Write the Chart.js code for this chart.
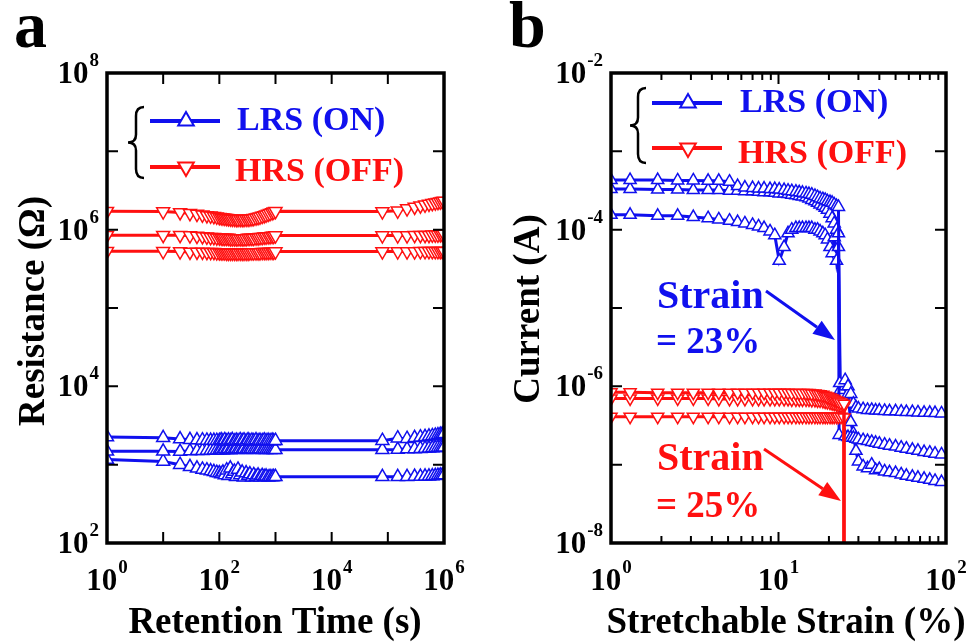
<!DOCTYPE html>
<html>
<head>
<meta charset="utf-8">
<script src="https://cdn.jsdelivr.net/npm/chart.js@4.4.1/dist/chart.umd.min.js"></script>
<style>
  html, body { margin: 0; padding: 0; background: #fff; }
  #wrap { position: relative; width: 973px; height: 644px; }
  canvas { position: absolute; left: 0; top: 0; }
</style>
</head>
<body>
<div id="wrap">
  <canvas id="chartA" width="973" height="644"></canvas>
  <canvas id="chartB" width="973" height="644"></canvas>
</div>
<script>
// ----- panel a : retention -----
const retentionTime = [1, 10, 20, 30, 40, 50, 60, 70, 80, 90,
  100, 108, 116, 125, 135, 145, 157, 170, 185, 200, 215, 235, 255, 275, 300,
  325, 350, 380, 410, 450, 490, 530, 580, 630, 680, 740, 800, 870, 930, 1000,
  80000, 150000, 220000, 300000, 380000, 460000, 540000, 620000, 700000, 780000, 860000, 930000, 1000000];

const hrsA1 = [1.72e6, 1.70e6, 1.66e6, 1.62e6, 1.58e6, 1.55e6, 1.52e6, 1.50e6, 1.48e6, 1.46e6,
  1.44e6, 1.43e6, 1.42e6, 1.41e6, 1.40e6, 1.39e6, 1.38e6, 1.37e6, 1.37e6, 1.36e6, 1.36e6, 1.36e6, 1.36e6, 1.36e6, 1.37e6,
  1.37e6, 1.38e6, 1.39e6, 1.40e6, 1.42e6, 1.44e6, 1.46e6, 1.49e6, 1.52e6, 1.55e6, 1.58e6, 1.62e6, 1.66e6, 1.69e6, 1.72e6,
  1.70e6, 1.74e6, 1.86e6, 1.95e6, 2.02e6, 2.08e6, 2.13e6, 2.17e6, 2.21e6, 2.24e6, 2.27e6, 2.30e6, 2.33e6];
const hrsA2 = [8.5e5, 8.5e5, 8.5e5, 8.4e5, 8.3e5, 8.2e5, 8.1e5, 8.0e5, 8.0e5, 7.9e5,
  7.9e5, 7.9e5, 7.8e5, 7.8e5, 7.8e5, 7.8e5, 7.7e5, 7.7e5, 7.7e5, 7.7e5, 7.7e5, 7.7e5, 7.7e5, 7.7e5, 7.7e5,
  7.8e5, 7.8e5, 7.8e5, 7.8e5, 7.9e5, 7.9e5, 8.0e5, 8.0e5, 8.1e5, 8.1e5, 8.2e5, 8.2e5, 8.3e5, 8.3e5, 8.4e5,
  8.4e5, 8.4e5, 8.4e5, 8.5e5, 8.5e5, 8.5e5, 8.5e5, 8.6e5, 8.6e5, 8.6e5, 8.7e5, 8.7e5, 8.8e5];
const hrsA3 = [5.3e5, 5.3e5, 5.25e5, 5.2e5, 5.2e5, 5.2e5, 5.15e5, 5.15e5, 5.15e5, 5.1e5,
  5.1e5, 5.1e5, 5.1e5, 5.1e5, 5.05e5, 5.05e5, 5.05e5, 5.05e5, 5.05e5, 5.05e5, 5.05e5, 5.05e5, 5.05e5, 5.05e5, 5.05e5,
  5.05e5, 5.1e5, 5.1e5, 5.1e5, 5.1e5, 5.1e5, 5.1e5, 5.15e5, 5.15e5, 5.15e5, 5.15e5, 5.2e5, 5.2e5, 5.2e5, 5.25e5,
  5.25e5, 5.25e5, 5.25e5, 5.25e5, 5.3e5, 5.3e5, 5.3e5, 5.3e5, 5.3e5, 5.3e5, 5.3e5, 5.3e5, 5.3e5];

const lrsA1 = [2250, 2200, 2120, 2080, 2060, 2050, 2040, 2030, 2030, 2020,
  2020, 2060, 2000, 2070, 1990, 2050, 2010, 2080, 1990, 2040, 2000, 2070, 2010, 2050, 1990,
  2060, 2000, 2040, 2010, 2060, 2000, 2030, 2010, 2050, 2000, 2030, 2010, 2040, 2000, 2020,
  2020, 2180, 2150, 2200, 2240, 2270, 2300, 2330, 2360, 2390, 2420, 2450, 2480];
const lrsA2 = [1480, 1480, 1470, 1490, 1500, 1510, 1520, 1520, 1530, 1530,
  1540, 1570, 1530, 1590, 1550, 1600, 1540, 1580, 1560, 1610, 1550, 1590, 1560, 1600, 1550,
  1580, 1560, 1590, 1550, 1570, 1560, 1580, 1550, 1570, 1550, 1560, 1550, 1560, 1550, 1550,
  1550, 1560, 1580, 1590, 1600, 1610, 1620, 1630, 1640, 1650, 1660, 1660, 1670];
const lrsA3 = [1160, 1100, 1000, 940, 900, 870, 850, 830, 810, 790,
  780, 760, 800, 740, 850, 720, 900, 760, 820, 700, 870, 740, 800, 690, 780,
  720, 760, 690, 740, 700, 730, 690, 720, 700, 710, 690, 700, 695, 700, 700,
  700, 700, 700, 705, 705, 710, 710, 715, 720, 725, 730, 735, 740];

// ----- panel b : stretching -----
const strainPre = [1, 1.3, 1.9, 2.5, 3.1, 3.8, 4.4, 5.1, 5.7, 6.3, 7, 7.6, 8.2, 8.9, 9.5, 10.1, 10.8, 11.4,
  12, 12.7, 13.3, 13.9, 14.6, 15.2, 15.8, 16.5, 17.1, 17.7, 18.4, 19, 19.6, 20.3, 20.9, 21.5, 22.2, 22.8];
const postStrain = [25, 26, 27, 28, 29, 30, 32, 34, 36, 38, 40, 43, 46, 50, 54, 58, 63, 68, 74, 80, 86, 94];

const lrsB1 = [4.3e-4, 4.3e-4, 4.3e-4, 4.25e-4, 4.25e-4, 4.2e-4, 4.2e-4, 4.1e-4, 3.6e-4, 3.45e-4, 3.4e-4, 3.35e-4,
  3.35e-4, 3.3e-4, 3.3e-4, 3.25e-4, 3.2e-4, 3.15e-4, 3.1e-4, 3.05e-4, 3.0e-4, 2.95e-4, 2.9e-4, 2.85e-4,
  2.8e-4, 2.7e-4, 2.6e-4, 2.5e-4, 2.45e-4, 2.4e-4, 2.3e-4, 2.25e-4, 2.2e-4, 2.1e-4, 2.0e-4, 1.95e-4];
const lrsB2 = [3.3e-4, 3.3e-4, 3.25e-4, 3.25e-4, 3.2e-4, 3.2e-4, 3.2e-4, 3.15e-4, 3.15e-4, 3.1e-4, 3.1e-4, 3.05e-4,
  3.0e-4, 3.0e-4, 2.95e-4, 2.9e-4, 2.9e-4, 2.85e-4, 2.8e-4, 2.75e-4, 2.7e-4, 2.65e-4, 2.6e-4, 2.5e-4,
  2.4e-4, 2.3e-4, 2.2e-4, 2.1e-4, 2.0e-4, 1.9e-4, 1.8e-4, 1.6e-4, 1.4e-4, 1.2e-4, 1.0e-4, 9e-5];
const lrsB3 = [1.55e-4, 1.55e-4, 1.5e-4, 1.5e-4, 1.45e-4, 1.4e-4, 1.35e-4, 1.3e-4, 1.25e-4, 1.2e-4, 1.15e-4, 1.1e-4,
  1.05e-4, 9.5e-5, 8.5e-5, 4e-5, 6e-5, 9e-5, 1.0e-4, 1.05e-4, 1.05e-4, 1.05e-4, 1.05e-4, 1.05e-4,
  1.05e-4, 1.0e-4, 1.0e-4, 9.5e-5, 9e-5, 8.5e-5, 7.5e-5, 6e-5, 5e-5, 8e-5, 4e-5, 6e-5];

// where each LRS curve breaks down
const lrsFailStrain = [23.2, 23.0, 23.4];
const lrsFailCurrent = [1.1e-6, 2.4e-7, 9e-7];

const lrsPostB1 = [1.2e-6, 1.0e-6, 8e-7, 6e-7, 5.4e-7, 5.2e-7, 5.1e-7, 5.0e-7, 5.0e-7, 4.9e-7, 4.9e-7,
  4.85e-7, 4.8e-7, 4.8e-7, 4.75e-7, 4.7e-7, 4.7e-7, 4.65e-7, 4.6e-7, 4.6e-7, 4.55e-7, 4.5e-7];
const lrsPostB2 = [2.3e-7, 2.25e-7, 2.2e-7, 2.2e-7, 2.15e-7, 2.1e-7, 2.05e-7, 2.0e-7, 1.95e-7, 1.9e-7, 1.85e-7,
  1.8e-7, 1.75e-7, 1.7e-7, 1.65e-7, 1.6e-7, 1.55e-7, 1.5e-7, 1.45e-7, 1.42e-7, 1.38e-7, 1.35e-7];
const lrsPostB3 = [1.0e-6, 8e-7, 3.5e-7, 2.5e-7, 1.5e-7, 1.1e-7, 9.5e-8, 9e-8, 1.0e-7, 8.5e-8, 8.8e-8,
  8.2e-8, 8.0e-8, 7.8e-8, 7.5e-8, 7.2e-8, 7.0e-8, 6.8e-8, 6.6e-8, 6.4e-8, 6.2e-8, 6.0e-8];

// HRS in panel b, last point is below the axis (open circuit)
const hrsEndStrain = [23.6, 24.6, 24.6];
const hrsB1 = [8.4e-7, 8.4e-7, 8.3e-7, 8.3e-7, 8.3e-7, 8.3e-7, 8.3e-7, 8.3e-7, 8.3e-7, 8.3e-7, 8.3e-7, 8.3e-7,
  8.3e-7, 8.3e-7, 8.3e-7, 8.3e-7, 8.3e-7, 8.3e-7, 8.2e-7, 8.2e-7, 8.2e-7, 8.2e-7, 8.2e-7, 8.2e-7,
  8.1e-7, 8.1e-7, 8.0e-7, 7.9e-7, 7.8e-7, 7.6e-7, 7.4e-7, 7.2e-7, 7.0e-7, 6.8e-7, 6.6e-7, 6.4e-7,
  6.2e-7, 6.0e-7, 1e-9];
const hrsB2 = [7.0e-7, 7.0e-7, 7.0e-7, 7.0e-7, 7.0e-7, 7.0e-7, 6.9e-7, 6.9e-7, 6.9e-7, 6.9e-7, 6.9e-7, 6.9e-7,
  6.9e-7, 6.9e-7, 6.9e-7, 6.9e-7, 6.9e-7, 6.9e-7, 6.8e-7, 6.8e-7, 6.8e-7, 6.8e-7, 6.8e-7, 6.8e-7,
  6.7e-7, 6.7e-7, 6.6e-7, 6.6e-7, 6.5e-7, 6.4e-7, 6.3e-7, 6.2e-7, 6.1e-7, 6.0e-7, 5.9e-7, 5.8e-7,
  5.7e-7, 5.6e-7, 1e-9];
const hrsB3 = [4.1e-7, 4.1e-7, 4.1e-7, 4.1e-7, 4.1e-7, 4.1e-7, 4.1e-7, 4.1e-7, 4.1e-7, 4.1e-7, 4.1e-7, 4.1e-7,
  4.1e-7, 4.1e-7, 4.1e-7, 4.1e-7, 4.1e-7, 4.1e-7, 4.1e-7, 4.1e-7, 4.1e-7, 4.1e-7, 4.1e-7, 4.1e-7,
  4.1e-7, 4.1e-7, 4.1e-7, 4.1e-7, 4.1e-7, 4.1e-7, 4.1e-7, 4.1e-7, 4.1e-7, 4.1e-7, 4.1e-7, 4.1e-7,
  4.1e-7, 4.0e-7, 1e-9];

// tick labels (powers of ten)
const timeTickExp = [0, 2, 4, 6];
const resistTickExp = [2, 4, 6, 8];
const strainTickExp = [0, 1, 2];
const currentTickExp = [-8, -6, -4, -2];

const BLUE = '#1010ee';
const RED = '#ff1010';
const SERIF = '"Liberation Serif", "Times New Roman", serif';

function pts(xs, ys) {
  return xs.map((x, i) => ({ x: x, y: ys[i] }));
}

function series(label, xs, ys, color, down, r) {
  return {
    label: label,
    data: pts(xs, ys),
    showLine: true,
    borderColor: color,
    borderWidth: 3,
    pointStyle: 'triangle',
    pointRotation: down ? 180 : 0,
    pointRadius: r,
    pointBorderWidth: 1.5,
    pointBackgroundColor: '#fff',
    pointBorderColor: color,
    tension: 0
  };
}

// ---------- drawing helpers ----------
function powLabel(ctx, exp, x, y, align) {
  ctx.font = 'bold 31px ' + SERIF;
  const wBase = ctx.measureText('10').width;
  ctx.font = 'bold 19px ' + SERIF;
  const e = String(exp);
  const wExp = ctx.measureText(e).width;
  const total = wBase + 1 + wExp;
  const x0 = align === 'right' ? x - total : x - total / 2;
  ctx.fillStyle = '#000';
  ctx.textAlign = 'left';
  ctx.textBaseline = 'alphabetic';
  ctx.font = 'bold 31px ' + SERIF;
  ctx.fillText('10', x0, y);
  ctx.font = 'bold 19px ' + SERIF;
  ctx.fillText(e, x0 + wBase + 1, y - 17);
}

function brace(ctx, x, top, bottom) {
  const mid = (top + bottom) / 2, w = 16, c = x + w / 2;
  ctx.strokeStyle = '#000';
  ctx.lineWidth = 2.5;
  ctx.beginPath();
  ctx.moveTo(x + w, top);
  ctx.quadraticCurveTo(c, top, c, top + 9);
  ctx.lineTo(c, mid - 8);
  ctx.quadraticCurveTo(c, mid, x, mid);
  ctx.quadraticCurveTo(c, mid, c, mid + 8);
  ctx.lineTo(c, bottom - 9);
  ctx.quadraticCurveTo(c, bottom, x + w, bottom);
  ctx.stroke();
}

function triangle(ctx, x, y, r, down, color) {
  const s = down ? -1 : 1;
  ctx.beginPath();
  ctx.moveTo(x, y - s * r);
  ctx.lineTo(x + r * 0.866, y + s * r * 0.5);
  ctx.lineTo(x - r * 0.866, y + s * r * 0.5);
  ctx.closePath();
  ctx.fillStyle = '#fff';
  ctx.fill();
  ctx.strokeStyle = color;
  ctx.lineWidth = 2;
  ctx.stroke();
}

function legendRow(ctx, x, y, text, textX, baseline, color, down) {
  ctx.strokeStyle = color;
  ctx.lineWidth = 4;
  ctx.beginPath();
  ctx.moveTo(x, y);
  ctx.lineTo(x + 70, y);
  ctx.stroke();
  triangle(ctx, x + 36, y, 9, down, color);
  ctx.fillStyle = color;
  ctx.font = 'bold 34px ' + SERIF;
  ctx.textAlign = 'left';
  ctx.textBaseline = 'alphabetic';
  ctx.fillText(text, textX, baseline);
}

function arrow(ctx, x0, y0, x1, y1, color) {
  const ang = Math.atan2(y1 - y0, x1 - x0), head = 22, half = 8;
  const bx = x1 - head * Math.cos(ang), by = y1 - head * Math.sin(ang);
  ctx.strokeStyle = color;
  ctx.lineWidth = 3;
  ctx.beginPath();
  ctx.moveTo(x0, y0);
  ctx.lineTo(bx, by);
  ctx.stroke();
  ctx.fillStyle = color;
  ctx.beginPath();
  ctx.moveTo(x1, y1);
  ctx.lineTo(bx + half * Math.sin(ang), by - half * Math.cos(ang));
  ctx.lineTo(bx - half * Math.sin(ang), by + half * Math.cos(ang));
  ctx.closePath();
  ctx.fill();
}

function frame(chart, xMinor) {
  const ctx = chart.ctx, a = chart.chartArea;
  const xs = chart.scales.x, ys = chart.scales.y;
  ctx.save();
  ctx.strokeStyle = '#000';
  ctx.lineWidth = 2;
  const xDec = [Math.log10(xs.min), Math.log10(xs.max)];
  for (let d = xDec[0]; d <= xDec[1]; d++) {
    for (let m = 1; m <= 9; m++) {
      if (m > 1 && !xMinor) break;
      const v = m * Math.pow(10, d);
      if (v <= xs.min || v >= xs.max) continue;
      const px = xs.getPixelForValue(v), len = m === 1 ? 11 : 7;
      ctx.beginPath();
      ctx.moveTo(px, a.bottom); ctx.lineTo(px, a.bottom - len);
      ctx.moveTo(px, a.top); ctx.lineTo(px, a.top + len);
      ctx.stroke();
    }
  }
  const yDec = [Math.log10(ys.min), Math.log10(ys.max)];
  for (let d = yDec[0]; d <= yDec[1]; d++) {
    const v = Math.pow(10, d);
    if (v <= ys.min || v >= ys.max) continue;
    const py = ys.getPixelForValue(v);
    ctx.beginPath();
    ctx.moveTo(a.left, py); ctx.lineTo(a.left + 11, py);
    ctx.moveTo(a.right, py); ctx.lineTo(a.right - 11, py);
    ctx.stroke();
  }
  ctx.lineWidth = 3.5;
  ctx.strokeRect(a.left, a.top, a.right - a.left, a.bottom - a.top);
  ctx.restore();
}

function tickLabels(chart, xExp, yExp) {
  const ctx = chart.ctx, a = chart.chartArea;
  xExp.forEach(e => powLabel(ctx, e, chart.scales.x.getPixelForValue(Math.pow(10, e)), a.bottom + 47, 'center'));
  yExp.forEach(e => powLabel(ctx, e, a.left - 8, chart.scales.y.getPixelForValue(Math.pow(10, e)) + 10, 'right'));
}

function titles(ctx, letter, lx, xTitle, xCenter, yTitle, yBase, yCenter) {
  ctx.fillStyle = '#000';
  ctx.textBaseline = 'alphabetic';
  ctx.font = 'bold 66px ' + SERIF;
  ctx.textAlign = 'left';
  ctx.fillText(letter, lx, 47);
  ctx.font = 'bold 37px ' + SERIF;
  ctx.textAlign = 'center';
  ctx.fillText(xTitle, xCenter, 633);
  ctx.save();
  ctx.translate(yBase, yCenter);
  ctx.rotate(-Math.PI / 2);
  ctx.fillText(yTitle, 0, 0);
  ctx.restore();
}

const panelA = {
  id: 'panelA',
  afterDraw(chart) {
    const ctx = chart.ctx;
    frame(chart, false);
    tickLabels(chart, timeTickExp, resistTickExp);
    titles(ctx, 'a', 14, 'Retention Time (s)', 275, 'Resistance (\u03A9)', 44, 311);
    brace(ctx, 128, 107, 178);
    legendRow(ctx, 150, 121, 'LRS (ON)', 237, 130, BLUE, false);
    legendRow(ctx, 150, 167, 'HRS (OFF)', 235, 181, RED, true);
  }
};

const panelB = {
  id: 'panelB',
  afterDraw(chart) {
    const ctx = chart.ctx;
    frame(chart, true);
    tickLabels(chart, strainTickExp, currentTickExp);
    titles(ctx, 'b', 509, 'Stretchable Strain (%)', 786, 'Current (A)', 539, 309);
    brace(ctx, 630, 88, 163);
    legendRow(ctx, 652, 103, 'LRS (ON)', 740, 112, BLUE, false);
    legendRow(ctx, 652, 148, 'HRS (OFF)', 738, 163, RED, true);

    ctx.textAlign = 'left';
    ctx.textBaseline = 'alphabetic';
    ctx.font = 'bold 40px ' + SERIF;
    ctx.fillStyle = BLUE;
    ctx.fillText('Strain', 657, 308);
    ctx.font = 'bold 37px ' + SERIF;
    ctx.fillText('= 23%', 656, 353);
    ctx.font = 'bold 40px ' + SERIF;
    ctx.fillStyle = RED;
    ctx.fillText('Strain', 657, 470);
    ctx.font = 'bold 37px ' + SERIF;
    ctx.fillText('= 25%', 656, 517);
    arrow(ctx, 766, 291, 835, 340, BLUE);
    arrow(ctx, 764, 449, 841, 501, RED);
  }
};

const commonOpts = {
  responsive: false,
  animation: false,
  plugins: { legend: { display: false }, tooltip: { enabled: false } },
  events: []
};

new Chart(document.getElementById('chartA'), {
  type: 'scatter',
  data: {
    datasets: [
      series('HRS 1', retentionTime, hrsA1, RED, true, 7.5),
      series('HRS 2', retentionTime, hrsA2, RED, true, 7.5),
      series('HRS 3', retentionTime, hrsA3, RED, true, 7.5),
      series('LRS 1', retentionTime, lrsA1, BLUE, false, 7.5),
      series('LRS 2', retentionTime, lrsA2, BLUE, false, 7.5),
      series('LRS 3', retentionTime, lrsA3, BLUE, false, 7.5)
    ]
  },
  options: Object.assign({}, commonOpts, {
    layout: { padding: { left: 107, right: 973 - 444, top: 73, bottom: 644 - 543 } },
    scales: {
      x: { type: 'logarithmic', min: 1, max: 1e6, display: false },
      y: { type: 'logarithmic', min: 1e2, max: 1e8, display: false }
    }
  }),
  plugins: [panelA]
});

const hrsStrain = strainPre.concat(hrsEndStrain);

new Chart(document.getElementById('chartB'), {
  type: 'scatter',
  data: {
    datasets: [
      series('HRS 1', hrsStrain, hrsB1, RED, true, 7),
      series('HRS 2', hrsStrain, hrsB2, RED, true, 7),
      series('HRS 3', hrsStrain, hrsB3, RED, true, 7),
      series('LRS 1', strainPre.concat([lrsFailStrain[0]], postStrain), lrsB1.concat([lrsFailCurrent[0]], lrsPostB1), BLUE, false, 7),
      series('LRS 2', strainPre.concat([lrsFailStrain[1]], postStrain), lrsB2.concat([lrsFailCurrent[1]], lrsPostB2), BLUE, false, 7),
      series('LRS 3', strainPre.concat([lrsFailStrain[2]], postStrain), lrsB3.concat([lrsFailCurrent[2]], lrsPostB3), BLUE, false, 7)
    ]
  },
  options: Object.assign({}, commonOpts, {
    layout: { padding: { left: 611, right: 973 - 946, top: 73, bottom: 644 - 543 } },
    scales: {
      x: { type: 'logarithmic', min: 1, max: 100, display: false },
      y: { type: 'logarithmic', min: 1e-8, max: 1e-2, display: false }
    }
  }),
  plugins: [panelB]
});
</script>
</body>
</html>
